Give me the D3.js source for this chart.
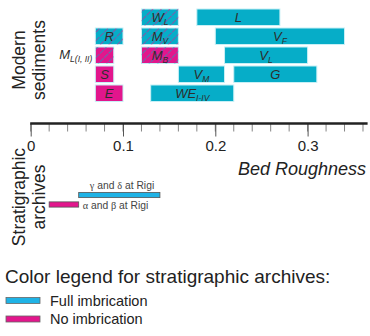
<!DOCTYPE html>
<html>
<head>
<meta charset="utf-8">
<script src="https://cdn.jsdelivr.net/npm/d3@7"></script>
<style>
  html, body { margin: 0; padding: 0; background: #fff; }
  svg { display: block; font-family: "Liberation Sans", Arial, sans-serif; }
</style>
</head>
<body>
<svg id="chart" width="370" height="336"></svg>
<script>
// Modern sediment ranges of bed roughness (row, start, end, fill, hatch)
const sedNames   = ["W", "L", "R", "M", "V", "M", "M", "V", "S", "V", "G", "E", "WE"];
const sedSubs    = ["L", "",  "",  "V", "F", "",  "B", "L", "",  "M", "",  "",  "I-IV"];
const sedRows    = [0, 0, 1, 1, 1, 2, 2, 2, 3, 3, 3, 4, 4];
const sedStart   = [0.12, 0.18, 0.07, 0.12, 0.20, 0.07, 0.12, 0.21, 0.07, 0.16, 0.22, 0.07, 0.13];
const sedEnd     = [0.16, 0.27, 0.10, 0.16, 0.34, 0.09, 0.16, 0.30, 0.09, 0.21, 0.31, 0.10, 0.22];
const sedFill    = ["cyan", "cyan", "cyan", "cyan", "cyan", "mag", "mag", "cyan", "mag", "cyan", "cyan", "mag", "cyan"];
const sedHatched = [true, false, true, true, false, true, true, false, false, false, false, false, false];
const sedShowLabel = [true, true, true, true, true, false, true, true, true, true, true, true, true];

// Stratigraphic archives
const archLabels = ["γ and δ at Rigi", "α and β at Rigi"];
const archStart  = [0.052, 0.02];
const archEnd    = [0.14, 0.052];
const archFill   = ["full", "none"];

// Axis ticks
const majorTicks = [0, 0.1, 0.2, 0.3];
const minorTicks = d3.range(0, 0.361, 0.02);

// Legend
const legendTitle = "Color legend for stratigraphic archives:";
const legendLabels = ["Full imbrication", "No imbrication"];
const legendKeys = ["full", "none"];

const colors = {
  cyan: "#06adc8",
  mag: "#e2168c",
  full: "#1fb3e6",
  none: "#e2168c"
};

const svg = d3.select("#chart");
const x = d3.scaleLinear().domain([0, 0.365]).range([30.7, 367.6]);

// hatch patterns: magenta lines on cyan bars, cyan lines on magenta bars
const defs = svg.append("defs");
function hatch(id, lineColor) {
  const p = defs.append("pattern")
    .attr("id", id).attr("patternUnits", "userSpaceOnUse")
    .attr("width", 6).attr("height", 6)
    .attr("patternTransform", "rotate(45)");
  p.append("line").attr("x1", 0).attr("y1", 0).attr("x2", 0).attr("y2", 6)
    .attr("stroke", lineColor).attr("stroke-width", 1.1)
    .attr("stroke-dasharray", "3,1");
}
hatch("hatch-cyan", colors.mag);
hatch("hatch-mag", colors.cyan);

const rowScale = d3.scaleBand().domain(d3.range(5)).range([7.75, 102.75])
  .paddingInner(0.13).paddingOuter(0.065);

const sed = svg.append("g");
sedStart.forEach((s, i) => {
  const y0 = rowScale(sedRows[i]);
  const h = rowScale.bandwidth();
  const x0 = x(s), w = x(sedEnd[i]) - x(s);
  sed.append("rect")
    .attr("x", x0).attr("y", y0).attr("width", w).attr("height", h)
    .attr("fill", colors[sedFill[i]])
    .attr("stroke", "#c9f0f6").attr("stroke-width", 1);
  if (sedHatched[i]) {
    sed.append("rect")
      .attr("x", x0).attr("y", y0).attr("width", w).attr("height", h)
      .attr("fill", sedFill[i] === "cyan" ? "url(#hatch-cyan)" : "url(#hatch-mag)");
  }
  if (sedShowLabel[i]) {
    const t = sed.append("text")
      .attr("x", x0 + w / 2).attr("y", y0 + h / 2 + 4.6)
      .attr("text-anchor", "middle")
      .attr("font-style", "italic").attr("font-size", 13)
      .attr("fill", "#2d2d2d");
    t.append("tspan").text(sedNames[i]);
    if (sedSubs[i]) {
      t.append("tspan").attr("font-size", 8.5).attr("dy", 3).text(sedSubs[i]);
    }
  }
});

// label placed to the left of the M_L bar
{
  const i = 5;
  const y0 = rowScale(sedRows[i]);
  const t = svg.append("text")
    .attr("x", x(sedStart[i]) - 3).attr("y", y0 + rowScale.bandwidth() / 2 + 3.5)
    .attr("text-anchor", "end").attr("font-style", "italic")
    .attr("font-size", 13).attr("fill", "#2d2d2d");
  t.append("tspan").text("M");
  t.append("tspan").attr("font-size", 8.5).attr("dy", 3).text("L(I, II)");
}

// axis
const axisY = 123.5;
const ax = svg.append("g").attr("transform", `translate(0,${axisY})`);
ax.selectAll("line.minor").data(minorTicks).join("line")
  .attr("class", "minor")
  .attr("x1", d => x(d)).attr("x2", d => x(d))
  .attr("y1", 0).attr("y2", 8)
  .attr("stroke", "#666").attr("stroke-width", 0.8);
ax.call(d3.axisBottom(x).tickValues(majorTicks).tickSize(13)
  .tickFormat(d => d === 0 ? "0" : d3.format(".1f")(d)))
  .call(g => g.select(".domain").remove())
  .call(g => g.selectAll(".tick line").attr("stroke", "#555").attr("stroke-width", 1))
  .call(g => g.selectAll(".tick text")
    .attr("font-family", "'Liberation Sans', Arial, sans-serif")
    .attr("font-size", 15).attr("fill", "#222").attr("dy", 0).attr("y", 27));
ax.append("line")
  .attr("x1", x(0) - 0.5).attr("x2", x.range()[1])
  .attr("y1", 0).attr("y2", 0)
  .attr("stroke", "#222").attr("stroke-width", 2.6);

svg.append("text")
  .attr("x", 366).attr("y", 175).attr("text-anchor", "end")
  .attr("font-style", "italic").attr("font-size", 18).attr("fill", "#222")
  .text("Bed Roughness");

// rotated side titles
function sideTitle(lines, cy) {
  const g = svg.append("g").attr("transform", `translate(0,${cy}) rotate(-90)`);
  lines.forEach((l, k) => {
    g.append("text").attr("x", 0).attr("y", 25 + k * 19.5)
      .attr("text-anchor", "middle").attr("font-size", 17.5).attr("fill", "#222")
      .text(l);
  });
}
sideTitle(["Modern", "sediments"], 60);
sideTitle(["Stratigraphic", "archives"], 197);

// stratigraphic archive bars
const archY = d3.scaleBand().domain([0, 1]).range([190.5, 209]).paddingInner(0.45).paddingOuter(0.2);
archStart.forEach((s, i) => {
  svg.append("rect")
    .attr("x", x(s)).attr("y", archY(i))
    .attr("width", x(archEnd[i]) - x(s)).attr("height", archY.bandwidth())
    .attr("fill", colors[archFill[i]])
    .attr("stroke", "#555").attr("stroke-width", 0.8);
});
function greekText(sel, str) {
  const parts = str.split(/([α-ωΑ-Ω])/);
  parts.forEach(p => {
    if (!p) return;
    const ts = sel.append("tspan").text(p);
    if (/[α-ωΑ-Ω]/.test(p)) ts.attr("font-family", "'Liberation Serif', 'Times New Roman', serif");
  });
}
greekText(svg.append("text").attr("x", 122).attr("y", 189).attr("text-anchor", "middle")
  .attr("font-size", 10.3).attr("fill", "#444"), archLabels[0]);
greekText(svg.append("text").attr("x", x(archEnd[1]) + 4).attr("y", 208.5)
  .attr("font-size", 10.3).attr("fill", "#444"), archLabels[1]);

// colour legend
svg.append("text").attr("x", 5).attr("y", 283).attr("font-size", 19).attr("fill", "#222")
  .text(legendTitle);
legendKeys.forEach((k, i) => {
  const ly = 297.5 + i * 18.5;
  svg.append("rect").attr("x", 6).attr("y", ly).attr("width", 34).attr("height", 6)
    .attr("fill", colors[k]).attr("stroke", "#666").attr("stroke-width", 0.8);
  svg.append("text").attr("x", 50).attr("y", ly + 8).attr("font-size", 14.5).attr("fill", "#222")
    .text(legendLabels[i]);
});
</script>
</body>
</html>
